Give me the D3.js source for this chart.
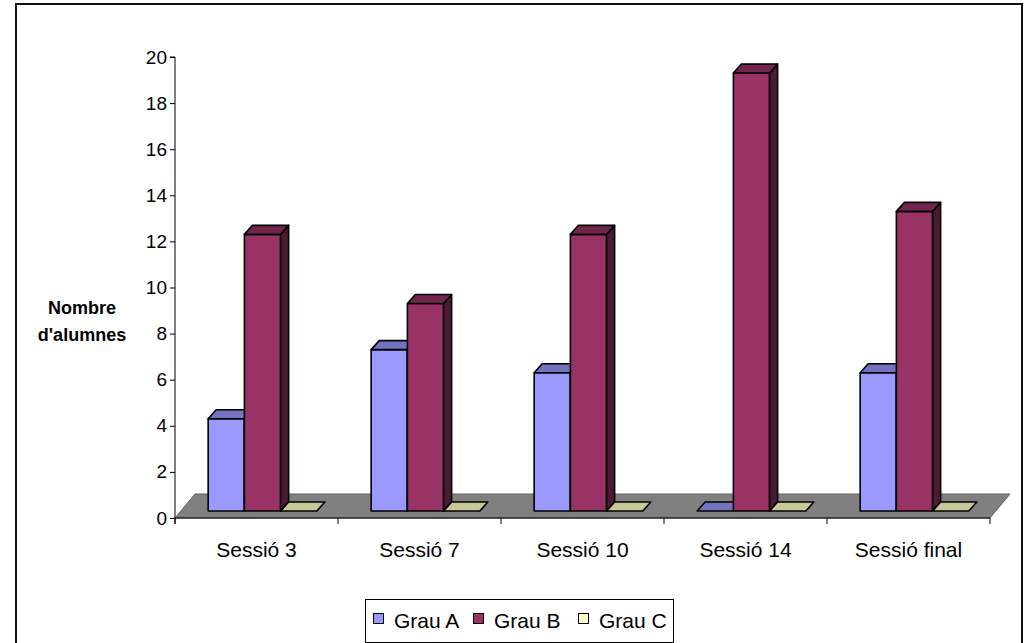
<!DOCTYPE html>
<html>
<head>
<meta charset="utf-8">
<script src="https://cdn.jsdelivr.net/npm/d3@7"></script>
<style>
  html, body { margin: 0; padding: 0; background: #fff; }
  svg { display: block; }
  text { font-family: "Liberation Sans", Arial, sans-serif; fill: #000; }
</style>
</head>
<body>
<svg id="chart" width="1032" height="643"></svg>
<script>
// Students per grade level at each session
const categories = ["Sessió 3", "Sessió 7", "Sessió 10", "Sessió 14", "Sessió final"];
const seriesNames = ["Grau A", "Grau B", "Grau C"];
const grauA = [4, 7, 6, 0, 6];
const grauB = [12, 9, 12, 19, 13];
const grauC = [0, 0, 0, 0, 0];
const yTicks = [0, 2, 4, 6, 8, 10, 12, 14, 16, 18, 20];
const yTitle = ["Nombre", "d'alumnes"];

const seriesValues = [grauA, grauB, grauC];
const palette = {
  "Grau A": { front: "#9999FF", top: "#7373BF", side: "#4D4D80", flat: "#7373BF" },
  "Grau B": { front: "#993366", top: "#73264D", side: "#4D1A33", flat: "#73264D" },
  "Grau C": { front: "#FFFFCC", top: "#C8C89A", side: "#808066", flat: "#C8C89A" }
};

const svg = d3.select("#chart");

// outer frame
svg.append("rect")
  .attr("x", 16).attr("y", 4).attr("width", 1006).attr("height", 700)
  .attr("fill", "none").attr("stroke", "#111").attr("stroke-width", 2);

// plot area
const plotLeft = 175, plotRight = 990, plotBottom = 518, plotTop = 57;
const floorDepth = { dx: 20, dy: -24 };   // full depth of the floor
const frontShift = { dx: 6, dy: -7 };     // where the bar fronts sit on the floor
const barDepth = { dx: 8, dy: -9 };       // thickness of each bar

const x = d3.scaleBand().domain(categories).range([plotLeft, plotRight]).paddingInner(0).paddingOuter(0);
const xs = d3.scaleBand().domain(seriesNames).range([0, x.bandwidth()]).paddingInner(0).paddingOuter(0.75);
const y = d3.scaleLinear().domain([0, 20]).range([plotBottom, plotTop]);

const pts = arr => arr.map(p => p.join(",")).join(" ");

// floor
svg.append("polygon")
  .attr("points", pts([
    [plotLeft, plotBottom], [plotRight, plotBottom],
    [plotRight + floorDepth.dx, plotBottom + floorDepth.dy],
    [plotLeft + floorDepth.dx, plotBottom + floorDepth.dy]
  ]))
  .attr("fill", "#808080").attr("stroke", "#606060").attr("stroke-width", 1);

// bars
const bars = [];
categories.forEach((c, ci) => {
  seriesNames.forEach((s, si) => {
    bars.push({ cat: c, series: s, value: seriesValues[si][ci] });
  });
});

const barG = svg.append("g").attr("stroke", "#000").attr("stroke-width", 1.6).attr("stroke-linejoin", "round");

bars.forEach(b => {
  const x0 = x(b.cat) + xs(b.series) + frontShift.dx;
  const x1 = x0 + xs.bandwidth();
  const yb = y(0) + frontShift.dy;
  const yt = y(b.value) + frontShift.dy;
  const col = palette[b.series];
  const dx = barDepth.dx, dy = barDepth.dy;
  if (b.value > 0) {
    barG.append("rect")
      .attr("x", x0).attr("y", yt).attr("width", x1 - x0).attr("height", yb - yt)
      .attr("fill", col.front);
    barG.append("polygon")
      .attr("points", pts([[x1, yt], [x1 + dx, yt + dy], [x1 + dx, yb + dy], [x1, yb]]))
      .attr("fill", col.side);
    barG.append("polygon")
      .attr("points", pts([[x0, yt], [x1, yt], [x1 + dx, yt + dy], [x0 + dx, yt + dy]]))
      .attr("fill", col.top);
  } else {
    barG.append("polygon")
      .attr("points", pts([[x0, yb], [x1, yb], [x1 + dx, yb + dy], [x0 + dx, yb + dy]]))
      .attr("fill", col.flat);
  }
});

// y axis
const yAxis = d3.axisLeft(y).tickValues(yTicks).tickSize(5).tickPadding(3).tickFormat(d3.format("d"));
const yg = svg.append("g").attr("transform", `translate(${plotLeft},0)`).call(yAxis);
yg.select(".domain").attr("stroke", "#000").attr("d", `M-5,${plotTop}H0V${plotBottom + 6}`);
yg.selectAll(".tick line").attr("stroke", "#000");
yg.selectAll(".tick text").attr("font-size", 19).attr("font-family", "Liberation Sans, Arial, sans-serif");

// x axis with ticks at category boundaries
const xg = svg.append("g");
xg.append("line").attr("x1", plotLeft).attr("x2", plotRight).attr("y1", plotBottom).attr("y2", plotBottom)
  .attr("stroke", "#000").attr("stroke-width", 1);
const bounds = categories.map(c => x(c)).concat([plotRight]);
xg.selectAll("line.tk").data(bounds).join("line").attr("class", "tk")
  .attr("x1", d => d).attr("x2", d => d).attr("y1", plotBottom).attr("y2", plotBottom + 6)
  .attr("stroke", "#000");
xg.selectAll("text").data(categories).join("text")
  .attr("x", d => x(d) + x.bandwidth() / 2).attr("y", 557)
  .attr("text-anchor", "middle").attr("font-size", 21).text(d => d);

// y axis title
svg.append("g").selectAll("text").data(yTitle).join("text")
  .attr("x", 82).attr("y", (d, i) => 314 + i * 27)
  .attr("text-anchor", "middle").attr("font-size", 18).attr("font-weight", "bold")
  .text(d => d);

// legend
const lg = svg.append("g");
lg.append("rect").attr("x", 365.5).attr("y", 599.5).attr("width", 308).attr("height", 43)
  .attr("fill", "#fff").attr("stroke", "#000").attr("stroke-width", 1);
const legendX = [373, 473, 578];
seriesNames.forEach((s, i) => {
  lg.append("rect").attr("x", legendX[i] + 0.5).attr("y", 613.5).attr("width", 10).attr("height", 10)
    .attr("fill", palette[s].front).attr("stroke", "#000").attr("stroke-width", 1);
  lg.append("text").attr("x", legendX[i] + 21).attr("y", 628).attr("font-size", 21).text(s);
});
</script>
</body>
</html>
